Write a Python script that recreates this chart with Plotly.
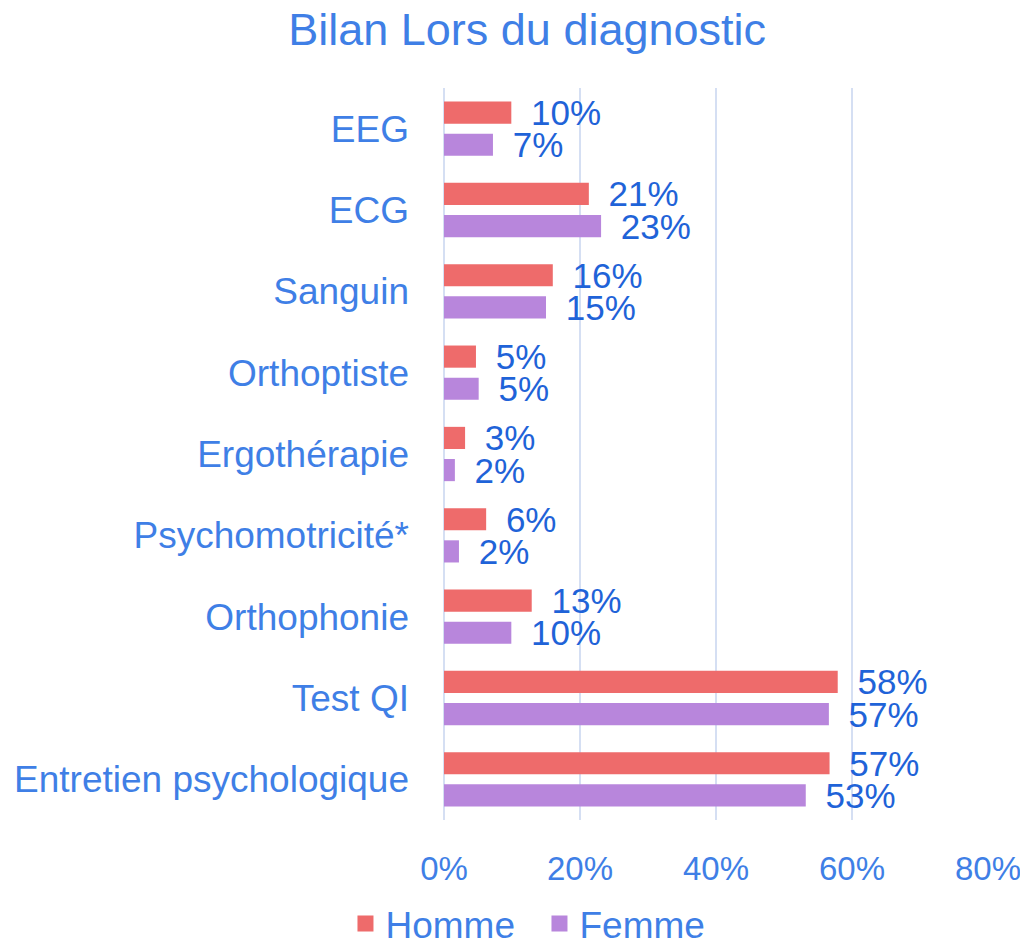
import plotly.graph_objects as go

categories = ["EEG", "ECG", "Sanguin", "Orthoptiste", "Ergothérapie",
              "Psychomotricité*", "Orthophonie", "Test QI", "Entretien psychologique"]
homme = [0.099, 0.213, 0.160, 0.047, 0.031, 0.062, 0.129, 0.579, 0.567]
femme = [0.072, 0.231, 0.150, 0.051, 0.016, 0.022, 0.099, 0.566, 0.532]
tick_vals = [0, 0.2, 0.4, 0.6, 0.8]
tick_text = ["0%", "20%", "40%", "60%", "80%"]

FONT = "Liberation Sans, Arial, sans-serif"
AXIS_BLUE = "#3F7FE6"
LABEL_BLUE = "#1F63D8"
series = [("Homme", homme, "#EE6B6B"), ("Femme", femme, "#B886DC")]

fig = go.Figure()
for name, vals, color in series:
    fig.add_trace(go.Bar(
        name=name, y=categories, x=vals, orientation="h", showlegend=False,
        marker=dict(color=color, line=dict(width=0)),
        texttemplate="\u00a0\u2009%{x:.0%}", textposition="outside",
        textfont=dict(family=FONT, size=35, color=LABEL_BLUE),
        constraintext="none", cliponaxis=False, hoverinfo="skip",
    ))
# legend entries with square swatches
for name, vals, color in series:
    fig.add_trace(go.Scatter(
        name=name, x=[None], y=[None], mode="markers",
        marker=dict(symbol="square", size=19, color=color), showlegend=True,
    ))

fig.update_layout(
    width=1028, height=947,
    paper_bgcolor="white", plot_bgcolor="white",
    barmode="group", bargap=0.21, bargroupgap=0.31,
    margin=dict(l=436, r=48, t=80, b=135, autoexpand=False),
    title=dict(text="Bilan Lors du diagnostic", x=0.505, xanchor="center",
               y=0.978, yanchor="middle", yref="container",
               font=dict(family=FONT, size=45, color=AXIS_BLUE)),
    font=dict(family=FONT, color=AXIS_BLUE),
    legend=dict(orientation="h", x=0.517, xanchor="center", xref="container",
                y=-0.013, yanchor="bottom", yref="container",
                font=dict(family=FONT, size=37, color=AXIS_BLUE),
                itemwidth=30, traceorder="normal",
                entrywidth=149, entrywidthmode="pixels"),
    xaxis=dict(range=[0, 0.8], tickvals=tick_vals, ticktext=tick_text,
               automargin=False,
               showgrid=True, gridcolor="#D5DFF3", gridwidth=1.5,
               zeroline=True, zerolinecolor="#D5DFF3", zerolinewidth=1.5,
               showline=False, ticks="", ticklabelstandoff=26,
               tickfont=dict(family=FONT, size=33, color=AXIS_BLUE)),
    yaxis=dict(type="category", autorange="reversed", showgrid=False,
               automargin=False,
               showline=False, ticks="", ticklabelstandoff=34,
               tickfont=dict(family=FONT, size=37, color=AXIS_BLUE)),
)

fig.write_html("out.html")
